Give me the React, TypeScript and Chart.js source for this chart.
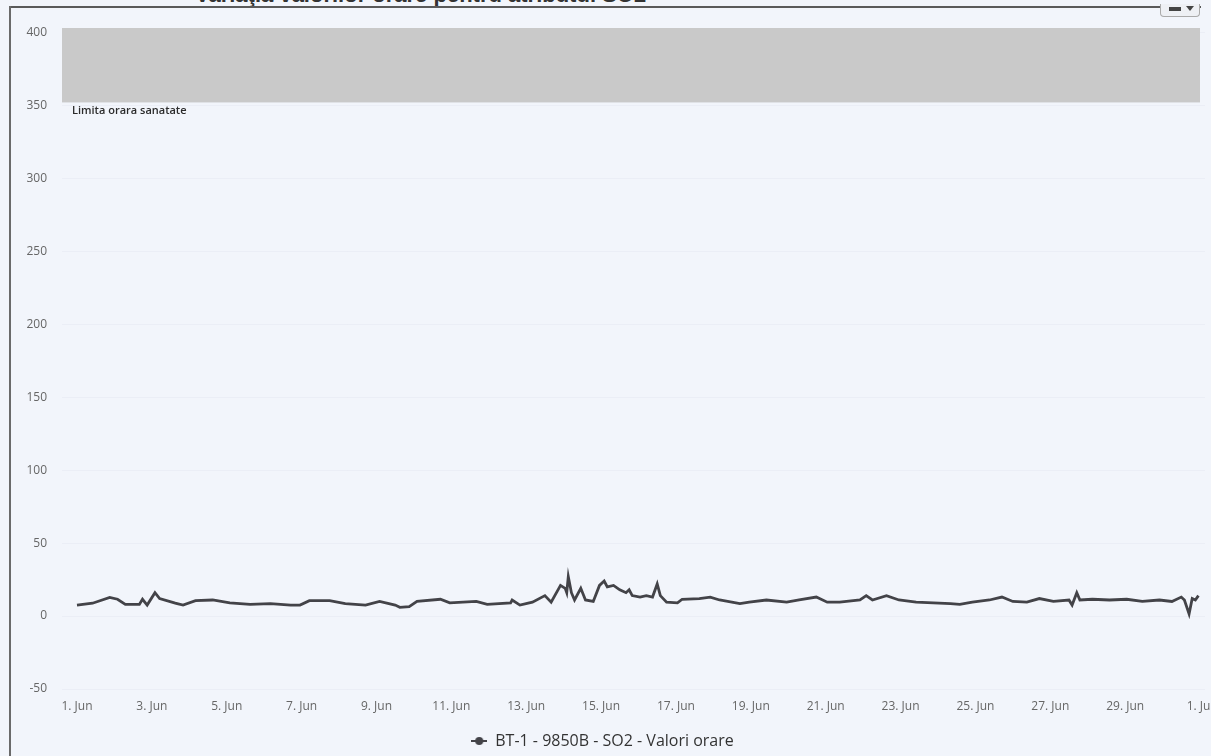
import React, { useEffect, useRef } from "react";
import { Chart, registerables } from "chart.js";

Chart.register(...registerables);

const titleText = "Variaţia valorilor orare pentru atributul SO2";
const seriesName = "BT-1 - 9850B - SO2 - Valori orare";
const bandLabel = "Limita orara sanatate";
const bandFrom = 352;
const bandTo = 403;
const yTicks = [-50, 0, 50, 100, 150, 200, 250, 300, 350, 400];
const xTickHours = [0, 48, 96, 144, 192, 240, 288, 336, 384, 432, 480, 528, 576, 624, 672, 720];
const xTickLabels = ["1. Jun", "3. Jun", "5. Jun", "7. Jun", "9. Jun", "11. Jun", "13. Jun", "15. Jun", "17. Jun", "19. Jun", "21. Jun", "23. Jun", "25. Jun", "27. Jun", "29. Jun", "1. Jul"];

// hours since 1 Jun 00:00
const sampleHours = [
  0, 10, 21, 26, 31, 40, 42, 45, 50, 53, 63, 68, 76, 87, 98, 111, 124, 137, 143, 149,
  162, 172, 185, 194, 204, 207, 213, 218, 233, 239, 256, 263, 278, 279, 284, 292, 300, 304, 310, 313,
  314, 315, 317, 319, 323, 326, 331, 335, 338, 340, 344, 348, 352, 354, 356, 361, 365, 369, 372, 374,
  378, 385, 388, 399, 406, 412, 425, 431, 442, 455, 463, 474, 481, 489, 502, 506, 510, 519, 527, 538,
  549, 560, 566, 574, 585, 593, 600, 609, 617, 626, 636, 638, 641, 643, 651, 662, 673, 683, 694, 702,
  708, 710, 713, 715, 717, 719,
];
const so2Values = [
  7.5, 8.8, 12.8, 11.5, 8, 8, 11.5, 7.5, 16, 12, 8.8, 7.5, 10.5, 11, 9, 8, 8.5, 7.5, 7.5, 10.5,
  10.5, 8.5, 7.5, 10, 7.5, 6, 6.5, 10, 11.5, 9, 10, 8, 9, 11, 7.5, 9.5, 14, 9.5, 21, 19,
  16, 27, 16, 11, 19, 11, 10, 21, 24, 20, 21, 18, 16, 18, 14, 13, 14, 13, 22, 14,
  9.5, 9, 11.5, 12, 13, 11, 8.5, 9.5, 11, 9.5, 11, 13, 9.5, 9.5, 11, 14, 11, 14, 11, 9.5,
  9, 8.5, 8, 9.5, 11, 13, 10, 9.5, 12, 10, 11, 7.5, 16, 11, 11.5, 11, 11.5, 10, 11, 10,
  13, 11, 1.5, 12, 11, 14,
];

const bandPlugin = {
  id: "bandPlugin",
  beforeDatasetsDraw(chart: any) {
    const { ctx, chartArea, scales } = chart;
    const y = scales.y;
    const top = y.getPixelForValue(bandTo);
    const bottom = y.getPixelForValue(bandFrom);
    ctx.save();
    ctx.fillStyle = "#c9c9c9";
    ctx.fillRect(chartArea.left, top, chartArea.right - chartArea.left - 5, bottom - top);
    ctx.fillStyle = "#2b2b2b";
    ctx.font = "600 11px 'Open Sans'";
    ctx.textBaseline = "middle";
    ctx.fillText(bandLabel, chartArea.left + 10, bottom + 8);
    ctx.restore();
  },
};

function makeLegendIcon(): HTMLCanvasElement {
  const c = document.createElement("canvas");
  c.width = 16;
  c.height = 10;
  const g = c.getContext("2d")!;
  g.strokeStyle = "#434348";
  g.lineWidth = 2;
  g.beginPath();
  g.moveTo(0, 5);
  g.lineTo(16, 5);
  g.stroke();
  g.fillStyle = "#434348";
  g.beginPath();
  g.arc(8, 5, 4, 0, Math.PI * 2);
  g.fill();
  return c;
}

export default function App() {
  const ref = useRef<HTMLCanvasElement>(null);
  useEffect(() => {
    document.body.style.margin = "0";
    const icon = makeLegendIcon();
    const chart = new Chart(ref.current!, {
      type: "line",
      data: {
        datasets: [
          {
            label: seriesName,
            data: sampleHours.map((h, i) => ({ x: h, y: so2Values[i] })),
            borderColor: "#434348",
            backgroundColor: "#434348",
            borderWidth: 2.8,
            pointRadius: 0,
            tension: 0,
            pointStyle: icon as any,
          },
        ],
      },
      options: {
        animation: false,
        responsive: false,
        layout: { padding: { top: 28, right: 6, left: 0, bottom: -3 } },
        scales: {
          x: {
            type: "linear",
            min: -9.6,
            max: 723.2,
            afterBuildTicks: (s: any) => {
              s.ticks = xTickHours.map((v) => ({ value: v }));
            },
            afterFit: (s: any) => {
              s.height = 39;
              s.paddingLeft = 0;
              s.paddingRight = 0;
            },
            ticks: {
              autoSkip: false,
              maxRotation: 0,
              padding: 10,
              color: "#666",
              font: { family: "'Open Sans'", size: 12 },
              callback: (v: any) => {
                const i = xTickHours.indexOf(Number(v));
                return i >= 0 ? xTickLabels[i] : "";
              },
            },
            grid: { display: false, drawTicks: false },
            border: { display: false },
          },
          y: {
            type: "linear",
            min: -50,
            max: bandTo,
            afterBuildTicks: (s: any) => {
              s.ticks = yTicks.map((v) => ({ value: v }));
            },
            afterFit: (s: any) => {
              s.width = 62;
              s.paddingTop = 0;
              s.paddingBottom = 0;
            },
            ticks: {
              padding: 15,
              color: "#666",
              font: { family: "'Open Sans'", size: 12 },
            },
            grid: { color: "rgba(215,220,232,0.25)", drawTicks: false },
            border: { display: false },
          },
        },
        plugins: {
          legend: {
            position: "bottom",
            labels: {
              usePointStyle: true,
              color: "#333",
              font: { family: "'Open Sans'", size: 16 },
              padding: 5,
            },
          },
          tooltip: { enabled: false },
        },
      },
      plugins: [bandPlugin],
    });
    return () => chart.destroy();
  }, []);

  return (
    <div style={{ position: "relative", width: 1211, height: 756, overflow: "hidden", background: "#f2f5fb" }}>
      <div
        style={{
          position: "absolute",
          left: 195,
          top: -16,
          font: "bold 22px 'Liberation Sans', Arial, sans-serif",
          lineHeight: "22px",
          color: "#333",
          whiteSpace: "nowrap",
        }}
      >
        {titleText}
      </div>
      <div style={{ position: "absolute", left: 9, top: 6, width: 1192, height: 0, borderTop: "2px solid #5a5a5a" }} />
      <div style={{ position: "absolute", left: 9, top: 6, width: 0, height: 760, borderLeft: "2px solid #6a6a6a" }} />
      <div
        style={{
          position: "absolute",
          left: 1160,
          top: 4,
          width: 38,
          height: 12,
          border: "1px solid #aaa",
          borderTop: "none",
          borderRadius: "0 0 4px 4px",
          background: "#eef0f4",
        }}
      >
        <div style={{ position: "absolute", left: 8, top: 3, width: 12, height: 4, background: "#444" }} />
        <div style={{ position: "absolute", left: 25, top: 2, width: 0, height: 0, borderLeft: "4px solid transparent", borderRight: "4px solid transparent", borderTop: "5px solid #444" }} />
      </div>
      <canvas ref={ref} width={1211} height={756} style={{ position: "absolute", left: 0, top: 0 }} />
    </div>
  );
}
